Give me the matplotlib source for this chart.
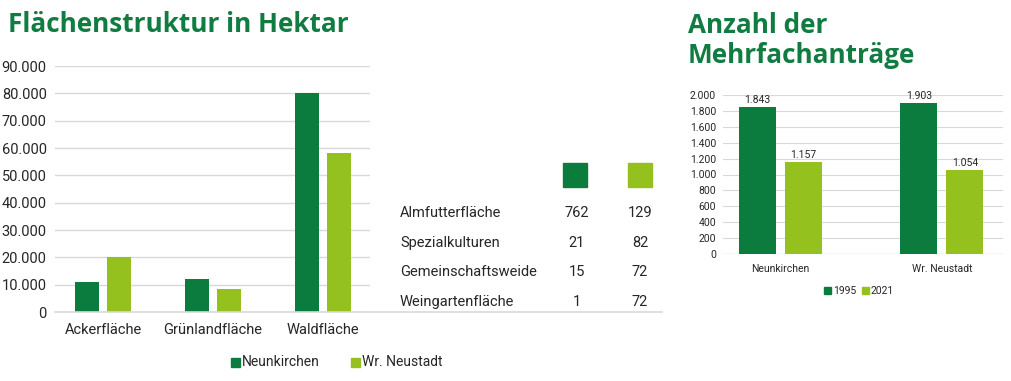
import matplotlib.pyplot as plt
from matplotlib.lines import Line2D
from matplotlib.patches import Rectangle
import numpy as np

# left chart data
flaechen = ["Ackerfläche", "Grünlandfläche", "Waldfläche"]
neunkirchen_ha = [11000, 12000, 80000]
neustadt_ha = [20000, 8500, 58000]
regionen = ["Neunkirchen", "Wr. Neustadt"]

# table next to the chart
table_rows = ["Almfutterfläche", "Spezialkulturen", "Gemeinschaftsweide", "Weingartenfläche"]
table_neunkirchen = [762, 21, 15, 1]
table_neustadt = [129, 82, 72, 72]

# right chart data
bezirke = ["Neunkirchen", "Wr. Neustadt"]
antraege_1995 = [1843, 1903]
antraege_2021 = [1157, 1054]
jahre = ["1995", "2021"]

DARK = "#0b7b3e"
LIGHT = "#95c11f"
TITLE = "#117c41"
GRID = "#d9d9d9"
TXT = "#262626"

narrow = ["Roboto", "DejaVu Sans"]
title_font = ["Open Sans", "DejaVu Sans"]


def fmt(v):
    return f"{v:,.0f}".replace(",", ".")


fig = plt.figure(figsize=(10.12, 3.81), dpi=100)

# ---- left: Flächenstruktur ----
ax1 = fig.add_axes([55 / 1012, 69 / 381, 315 / 1012, 246 / 381])
x = np.arange(len(flaechen))
w = 24 / 110
off = 16 / 110
ax1.bar(x - off, neunkirchen_ha, w, color=DARK, zorder=3)
ax1.bar(x + off, neustadt_ha, w, color=LIGHT, zorder=3)
ax1.set_xlim((55 - 103) / 110, (370 - 103) / 110)
ax1.set_ylim(0, 90000)
ax1.set_yticks(np.arange(0, 90001, 10000))
ax1.set_yticklabels([fmt(v) for v in np.arange(0, 90001, 10000)], family=narrow, fontsize=10.5, color=TXT)
ax1.set_xticks(x)
ax1.set_xticklabels(flaechen, family=narrow, fontsize=10.5, color=TXT)
ax1.tick_params(length=0, pad=6)
ax1.tick_params(axis="x", pad=8)
ax1.grid(axis="y", color=GRID, lw=1, zorder=0)
for s in ax1.spines.values():
    s.set_visible(False)

# baseline running under the table
fig.add_artist(Line2D([55 / 1012, 662 / 1012], [69 / 381, 69 / 381], color=GRID, lw=1.2))

# table
row_y = [168, 138, 109, 79]
for name, a, b, yy in zip(table_rows, table_neunkirchen, table_neustadt, row_y):
    fig.text(400 / 1012, yy / 381, name, family=narrow, fontsize=10.5, color=TXT, va="center")
    fig.text(577 / 1012, yy / 381, str(a), family=narrow, fontsize=10.5, color=TXT, va="center", ha="center")
    fig.text(640 / 1012, yy / 381, str(b), family=narrow, fontsize=10.5, color=TXT, va="center", ha="center")
fig.add_artist(Rectangle((563 / 1012, 194 / 381), 24 / 1012, 24 / 381, color=DARK, transform=fig.transFigure))
fig.add_artist(Rectangle((628 / 1012, 194 / 381), 24 / 1012, 24 / 381, color=LIGHT, transform=fig.transFigure))

# legend of left chart
for lbl, col, lx in zip(regionen, [DARK, LIGHT], [231, 351]):
    fig.add_artist(Rectangle((lx / 1012, 14 / 381), 9 / 1012, 9 / 381, color=col, transform=fig.transFigure))
    fig.text((lx + 11) / 1012, 19 / 381, lbl, family=narrow, fontsize=10, color=TXT, va="center")

fig.text(8 / 1012, 1 - 32 / 381, "Flächenstruktur in Hektar", family=title_font,
         fontsize=18.8, fontweight="bold", color=TITLE, va="baseline")

# ---- right: Mehrfachanträge ----
ax2 = fig.add_axes([723 / 1012, 127 / 381, 280 / 1012, 159 / 381])
x2 = np.arange(len(bezirke))
w2 = 37 / 161.5
off2 = 23 / 161.5
b1 = ax2.bar(x2 - off2, antraege_1995, w2, color=DARK, zorder=3, label=jahre[0])
b2 = ax2.bar(x2 + off2, antraege_2021, w2, color=LIGHT, zorder=3, label=jahre[1])
for bars in (b1, b2):
    for r in bars:
        ax2.text(r.get_x() + r.get_width() / 2, r.get_height() + 25, fmt(r.get_height()),
                 ha="center", va="bottom", family=narrow, fontsize=7.5, color=TXT)
ax2.set_xlim((723 - 780.5) / 161.5, (1003 - 780.5) / 161.5)
ax2.set_ylim(0, 2000)
ax2.set_yticks(np.arange(0, 2001, 200))
ax2.set_yticklabels([fmt(v) for v in np.arange(0, 2001, 200)], family=narrow, fontsize=7.5, color=TXT)
ax2.set_xticks(x2)
ax2.set_xticklabels(bezirke, family=narrow, fontsize=7.5, color=TXT)
ax2.tick_params(length=0, pad=5)
ax2.tick_params(axis="x", pad=7)
ax2.grid(axis="y", color=GRID, lw=0.8, zorder=0)
for s in ax2.spines.values():
    s.set_visible(False)
ax2.axhline(0, color=GRID, lw=1, zorder=1)

for lbl, col, lx in zip(jahre, [DARK, LIGHT], [824, 862]):
    fig.add_artist(Rectangle((lx / 1012, 87 / 381), 7 / 1012, 7 / 381, color=col, transform=fig.transFigure))
    fig.text((lx + 9) / 1012, 90 / 381, lbl, family=narrow, fontsize=7.5, color=TXT, va="center")

fig.text(688 / 1012, 1 - 63 / 381, "Anzahl der\nMehrfachanträge", family=title_font,
         fontsize=18.8, fontweight="bold", color=TITLE, linespacing=1.15, va="baseline")

fig.savefig("out.png", dpi=100)
